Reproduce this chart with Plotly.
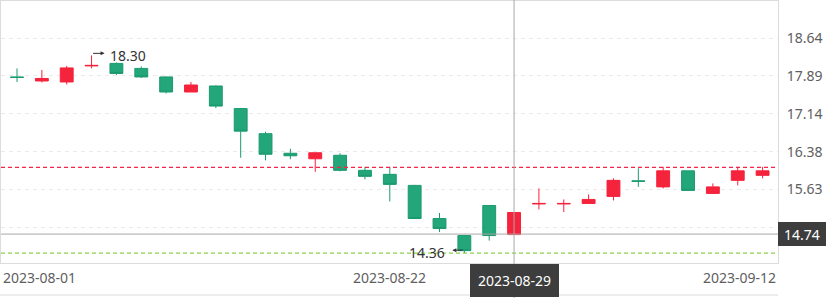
import numpy as np
import plotly.graph_objects as go

dates = ["2023-08-01", "2023-08-02", "2023-08-03", "2023-08-04", "2023-08-07", "2023-08-08",
         "2023-08-09", "2023-08-10", "2023-08-11", "2023-08-14", "2023-08-15", "2023-08-16",
         "2023-08-17", "2023-08-18", "2023-08-21", "2023-08-22", "2023-08-23", "2023-08-24",
         "2023-08-25", "2023-08-28", "2023-08-29", "2023-08-30", "2023-08-31", "2023-09-01",
         "2023-09-04", "2023-09-05", "2023-09-06", "2023-09-07", "2023-09-08", "2023-09-11",
         "2023-09-12"]
opens = [17.87, 17.79, 17.77, 18.09, 18.14, 18.04, 17.87, 17.57, 17.69, 17.24, 16.74, 16.35,
         16.24, 16.31, 16.01, 15.93, 15.71, 15.05, 14.71, 15.31, 14.73, 15.34, 15.34, 15.35,
         15.49, 15.80, 15.68, 16.00, 15.55, 15.81, 15.91]
highs = [18.04, 18.01, 18.09, 18.30, 18.16, 18.08, 17.88, 17.77, 17.70, 17.25, 16.78, 16.44,
         16.36, 16.35, 16.08, 16.08, 15.72, 15.16, 14.72, 15.31, 15.17, 15.65, 15.43, 15.53,
         15.85, 16.05, 16.08, 16.00, 15.75, 16.08, 16.08]
lows = [17.77, 17.76, 17.72, 18.04, 17.91, 17.85, 17.54, 17.57, 17.25, 16.26, 16.21, 16.23,
        15.98, 15.99, 15.83, 15.39, 15.04, 14.78, 14.36, 14.61, 14.73, 15.23, 15.18, 15.35,
        15.41, 15.68, 15.65, 15.61, 15.54, 15.71, 15.85]
closes = [17.86, 17.84, 18.05, 18.10, 17.94, 17.87, 17.57, 17.71, 17.29, 16.79, 16.33, 16.30,
          16.36, 16.01, 15.89, 15.73, 15.05, 14.85, 14.41, 14.71, 15.17, 15.35, 15.35, 15.43,
          15.81, 15.79, 16.00, 15.61, 15.68, 16.00, 16.00]

y_ticks = [14.88, 15.63, 16.38, 17.14, 17.89, 18.64]
x_label_dates = ["2023-08-01", "2023-08-22", "2023-09-12"]
red_line_value = 16.07
green_line_value = 14.36
cross_date = "2023-08-29"
cross_value = 14.74

UP = "#F5233C"
DOWN = "#22A67A"
DOWN_LINE = "#1C9A6F"
GRID = "#EBEBEB"
FRAME = "#DCDCDC"
TEXT = "#5E5E5E"
FONT = "Noto Sans"

H, B = 298, 35
TOP = 1
plot_h = H - B - TOP


def py(pix):
    return (H - B - pix) / plot_h


fig = go.Figure()
fig.add_trace(go.Candlestick(
    x=dates, open=opens, high=highs, low=lows, close=closes,
    increasing=dict(fillcolor=UP, line=dict(color=UP, width=1)),
    decreasing=dict(fillcolor=DOWN, line=dict(color=DOWN_LINE, width=1)),
    whiskerwidth=0, hoverinfo="skip",
))

shapes = [
    dict(type="line", xref="paper", yref="y", x0=0, x1=1, y0=red_line_value, y1=red_line_value,
         line=dict(color="#F7234A", width=1.2, dash="4px,3px")),
    dict(type="line", xref="paper", yref="y", x0=0, x1=1, y0=green_line_value, y1=green_line_value,
         line=dict(color="#8DD24E", width=1.2, dash="4px,3px")),
    dict(type="line", xref="paper", yref="y", x0=0, x1=1, y0=cross_value, y1=cross_value,
         line=dict(color="#A8A8A8", width=1)),
    dict(type="line", xref="x", yref="paper", x0=cross_date, x1=cross_date, y0=py(H), y1=py(0),
         line=dict(color="#A8A8A8", width=1)),
    dict(type="line", xref="paper", yref="paper", x0=-0.002, x1=1, y0=py(295), y1=py(295),
         line=dict(color=FRAME, width=1)),
]

imax = int(np.argmax(highs))
imin = int(np.argmin(lows))
annotations = [
    dict(x=dates[imax], y=highs[imax], xref="x", yref="y", text="", showarrow=True,
         ax=-13, ay=0, xshift=13, yshift=2, arrowhead=2, arrowsize=0.8, arrowwidth=1,
         arrowcolor="#333333"),
    dict(x=dates[imax], y=highs[imax], xref="x", yref="y", text=f"{highs[imax]:.2f}",
         showarrow=False, xanchor="left", yanchor="middle", xshift=16, yshift=0,
         font=dict(family=FONT, size=14, color="#333333")),
    dict(x=dates[imin], y=lows[imin], xref="x", yref="y", text="", showarrow=True,
         ax=12, ay=0, xshift=-12, yshift=3, arrowhead=2, arrowsize=0.8, arrowwidth=1,
         arrowcolor="#333333"),
    dict(x=dates[imin], y=lows[imin], xref="x", yref="y", text=f"{lows[imin]:.2f}",
         showarrow=False, xanchor="right", yanchor="middle", xshift=-17, yshift=1,
         font=dict(family=FONT, size=14, color="#333333")),
    # x axis labels
    dict(x=0, xref="paper", y=py(277), yref="paper", text=x_label_dates[0], showarrow=False,
         xanchor="left", yanchor="middle", font=dict(family=FONT, size=14, color=TEXT)),
    dict(x=x_label_dates[1], xref="x", y=py(277), yref="paper", text=x_label_dates[1],
         showarrow=False, xanchor="center", yanchor="middle",
         font=dict(family=FONT, size=14, color=TEXT)),
    dict(x=1, xref="paper", y=py(277), yref="paper", text=x_label_dates[2], showarrow=False,
         xanchor="right", yanchor="middle", font=dict(family=FONT, size=14, color=TEXT)),
    # crosshair labels
    dict(x=cross_date, xref="x", y=py(264), yref="paper", text=cross_date, showarrow=False,
         xanchor="center", yanchor="top", width=89, height=33, borderpad=0, borderwidth=0,
         bgcolor="#3D3D3D", font=dict(family=FONT, size=14, color="#FFFFFF")),
    dict(x=1, xref="paper", y=cross_value, yref="y", text=f"{cross_value:.2f}", showarrow=False,
         xanchor="left", yanchor="middle", width=48, height=24, borderpad=0, borderwidth=0,
         bgcolor="#3D3D3D", font=dict(family=FONT, size=14, color="#FFFFFF")),
]

fig.update_layout(
    width=832, height=H,
    margin=dict(l=1, r=54, t=TOP, b=B, pad=0),
    paper_bgcolor="white", plot_bgcolor="white",
    showlegend=False, boxgap=0.26,
    shapes=shapes, annotations=annotations,
    font=dict(family=FONT, size=14, color=TEXT),
    xaxis=dict(type="category", range=[-0.644, 30.62], rangeslider=dict(visible=False),
               showticklabels=False, showgrid=False, zeroline=False,
               showline=True, mirror=True, linecolor=FRAME, linewidth=1, ticks=""),
    yaxis=dict(side="right", range=[14.164, 19.383], tickvals=y_ticks,
               ticktext=[f"{v:.2f}" for v in y_ticks], showgrid=True, gridcolor=GRID,
               griddash="4px,4px", gridwidth=1, zeroline=False, showline=True, mirror=True,
               linecolor=FRAME, linewidth=1, ticks="", ticklabelstandoff=5,
               tickfont=dict(family=FONT, size=14, color=TEXT)),
)

fig.write_html("out.html")
